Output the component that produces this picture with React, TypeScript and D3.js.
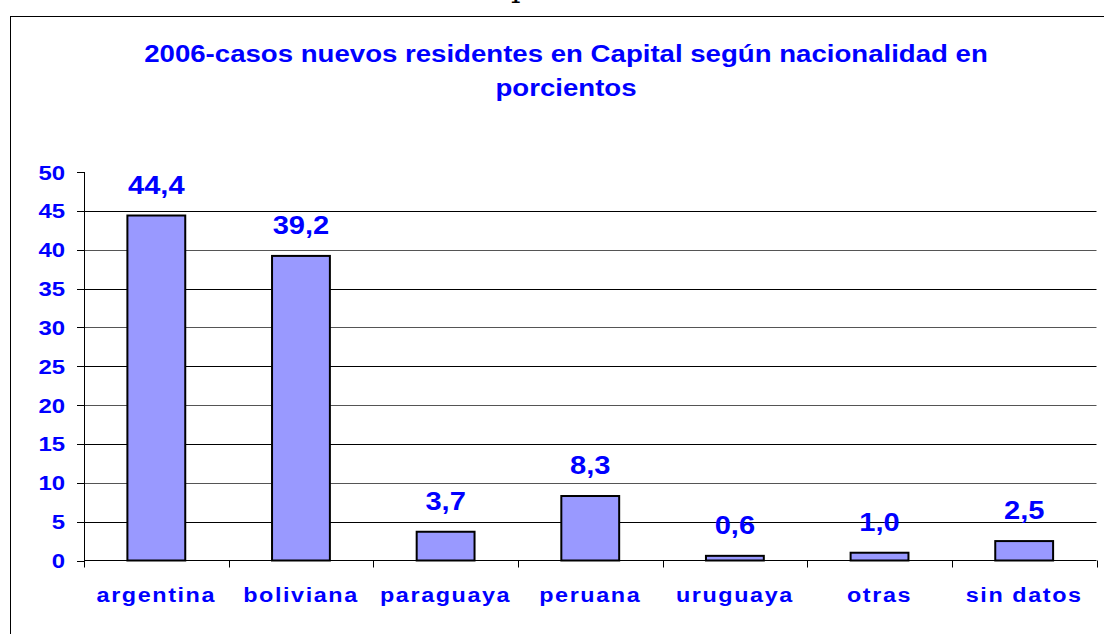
import { useEffect, useRef } from 'react'
import * as d3 from 'd3'

const categories = ['argentina', 'boliviana', 'paraguaya', 'peruana', 'uruguaya', 'otras', 'sin datos']
const values = [44.4, 39.2, 3.7, 8.3, 0.6, 1.0, 2.5]
const yTicks = [0, 5, 10, 15, 20, 25, 30, 35, 40, 45, 50]
const titleLines = ['2006-casos nuevos residentes en Capital según nacionalidad en', 'porcientos']

const BLUE = '#0000ff'
const FONT = '"Liberation Sans", Arial, sans-serif'

export default function App() {
  const svgRef = useRef<SVGSVGElement>(null)

  useEffect(() => {
    const svg = d3.select(svgRef.current)
    svg.selectAll('*').remove()

    const plot = { left: 84, right: 1096.5, top: 172, bottom: 560.5 }

    const x = d3.scaleBand<string>()
      .domain(categories)
      .range([plot.left, plot.right])
      .paddingInner(0.6)
      .paddingOuter(0.3)

    const y = d3.scaleLinear()
      .domain([0, 50])
      .range([plot.bottom, plot.top])

    // foot of a letter of the page text above the chart
    svg.append('text')
      .attr('x', 511)
      .attr('y', -3)
      .style('font-family', '"DejaVu Serif", "Liberation Serif", serif')
      .style('font-size', '30px')
      .text('p')

    // chart frame (right and bottom edges fall outside the picture)
    svg.append('rect')
      .attr('x', 10.5)
      .attr('y', 16.5)
      .attr('width', 1120)
      .attr('height', 640)
      .attr('fill', 'white')
      .attr('stroke', 'black')
      .attr('stroke-width', 1)

    // title
    svg.append('g')
      .selectAll('text')
      .data(titleLines)
      .enter().append('text')
      .attr('transform', (d, i) => `translate(566,${62 + i * 34}) scale(1.15,1)`)
      .attr('text-anchor', 'middle')
      .style('font-family', FONT)
      .style('font-weight', 'bold')
      .style('font-size', '24px')
      .style('fill', BLUE)
      .text(d => d)

    // gridlines
    svg.append('g')
      .selectAll('line')
      .data(yTicks.filter(t => t > 0 && t < 50))
      .enter().append('line')
      .attr('x1', plot.left)
      .attr('x2', plot.right)
      .attr('y1', d => Math.round(y(d)) + 0.5)
      .attr('y2', d => Math.round(y(d)) + 0.5)
      .attr('stroke', (d, i) => (i % 2 === 0 ? '#000' : '#555'))
      .attr('stroke-width', 1)

    // y axis
    const yAxis = svg.append('g')
    yAxis.append('line')
      .attr('x1', plot.left + 0.5).attr('x2', plot.left + 0.5)
      .attr('y1', plot.top).attr('y2', plot.bottom)
      .attr('stroke', '#000')
    yAxis.selectAll('.tick')
      .data(yTicks)
      .enter().append('line')
      .attr('x1', plot.left - 7).attr('x2', plot.left)
      .attr('y1', d => Math.round(y(d)) + 0.5)
      .attr('y2', d => Math.round(y(d)) + 0.5)
      .attr('stroke', '#000')
    yAxis.selectAll('text')
      .data(yTicks)
      .enter().append('text')
      .attr('transform', d => `translate(65,${y(d) + 7.5}) scale(1.14,1)`)
      .attr('text-anchor', 'end')
      .style('font-family', FONT)
      .style('font-weight', 'bold')
      .style('font-size', '21px')
      .style('fill', BLUE)
      .text(d => d)

    // bars
    svg.append('g')
      .selectAll('rect')
      .data(values)
      .enter().append('rect')
      .attr('x', (d, i) => x(categories[i])!)
      .attr('y', d => y(d))
      .attr('width', x.bandwidth())
      .attr('height', d => plot.bottom - y(d))
      .attr('fill', '#9999ff')
      .attr('stroke', '#000')
      .attr('stroke-width', 2)

    // x axis
    const xAxis = svg.append('g')
    xAxis.append('line')
      .attr('x1', plot.left).attr('x2', plot.right)
      .attr('y1', plot.bottom).attr('y2', plot.bottom)
      .attr('stroke', '#000')
    xAxis.selectAll('.tick')
      .data(d3.range(categories.length + 1))
      .enter().append('line')
      .attr('x1', i => Math.round(plot.left + i * x.step()) + 0.5)
      .attr('x2', i => Math.round(plot.left + i * x.step()) + 0.5)
      .attr('y1', plot.bottom)
      .attr('y2', plot.bottom + 7)
      .attr('stroke', '#000')
    xAxis.selectAll('text')
      .data(categories)
      .enter().append('text')
      .attr('transform', d => `translate(${x(d)! + x.bandwidth() / 2},602) scale(1.14,1)`)
      .attr('text-anchor', 'middle')
      .style('font-family', FONT)
      .style('font-weight', 'bold')
      .style('font-size', '20.5px')
      .style('letter-spacing', '1.4px')
      .style('fill', BLUE)
      .text(d => d)

    // value labels
    svg.append('g')
      .selectAll('text')
      .data(values)
      .enter().append('text')
      .attr('transform', (d, i) => `translate(${x(categories[i])! + x.bandwidth() / 2},${y(d) - 22}) scale(1.14,1)`)
      .attr('text-anchor', 'middle')
      .style('font-family', FONT)
      .style('font-weight', 'bold')
      .style('font-size', '25.5px')
      .style('fill', BLUE)
      .text(d => d.toFixed(1).replace('.', ','))
  }, [])

  return (
    <div style={{ position: 'fixed', left: 0, top: 0 }}>
      <svg ref={svgRef} width={1104} height={634} style={{ display: 'block', background: 'white' }}></svg>
    </div>
  )
}
